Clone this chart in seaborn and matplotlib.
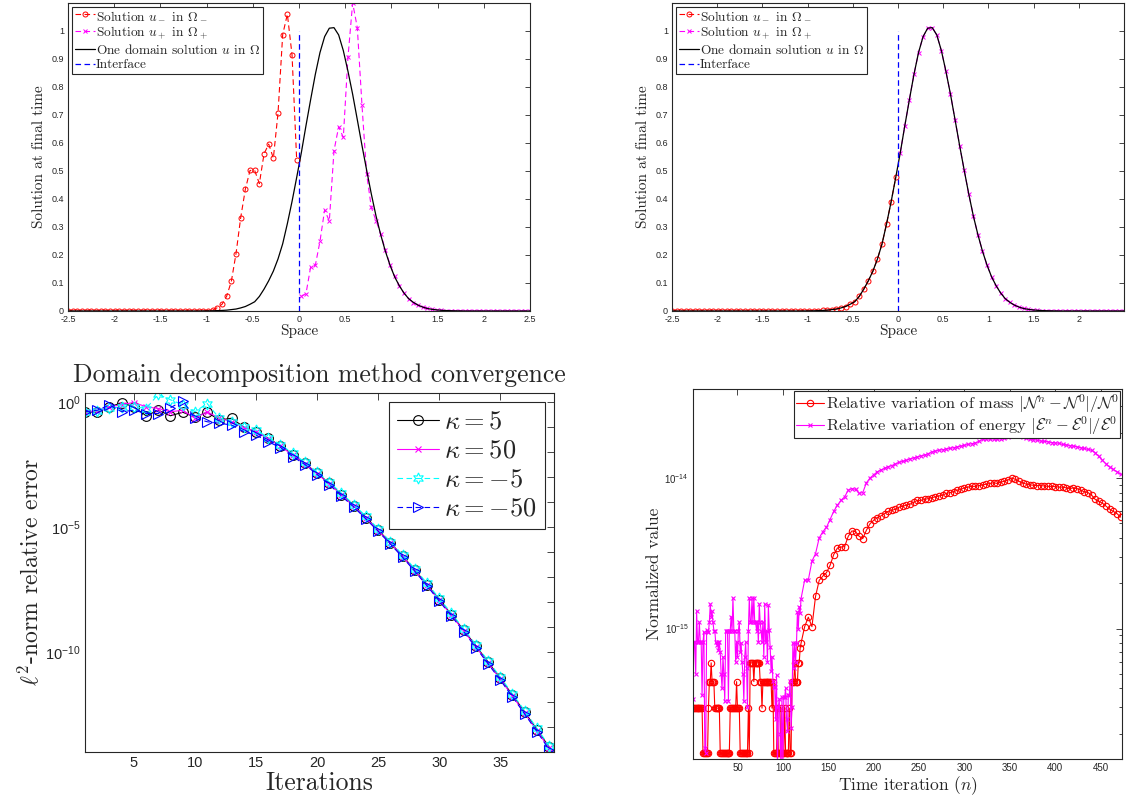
import numpy as np
import pandas as pd
import matplotlib
matplotlib.use("Agg")
import matplotlib.pyplot as plt
import matplotlib.ticker as mticker
import seaborn as sns

# ---------------- data ----------------
# space grids (cell centres, left and right sub-domains)
x_minus = np.linspace(-2.5, -0.025, 50)
x_plus = np.linspace(0.025, 2.5, 50)

# one domain solution u sampled on the two grids
u_exact_minus = [0.0] * 29 + [0.0003, 0.0005, 0.0008, 0.0013, 0.002, 0.003, 0.005, 0.007,
                              0.011, 0.016, 0.024, 0.033, 0.052, 0.078, 0.108, 0.1425,
                              0.186, 0.240, 0.312, 0.391, 0.477]
u_exact_plus = [0.565, 0.662, 0.755, 0.845, 0.923, 0.980, 1.010, 1.012, 0.986, 0.930,
                0.856, 0.774, 0.683, 0.591, 0.503, 0.418, 0.340, 0.273, 0.214, 0.164,
                0.122, 0.090, 0.064, 0.044, 0.031, 0.021, 0.014, 0.009, 0.006, 0.004,
                0.0025, 0.0016, 0.001, 0.0006, 0.0004] + [0.0] * 15

# first decomposition attempt (top left)
u_minus_bad = [0.0] * 30 + [0.001, 0.003, 0.012, 0.024, 0.053, 0.106, 0.205, 0.333, 0.435,
                            0.502, 0.502, 0.455, 0.561, 0.596, 0.546, 0.707, 0.987, 1.06,
                            0.915, 0.539]
u_plus_bad = [0.052, 0.062, 0.157, 0.163, 0.249, 0.361, 0.321, 0.572, 0.658, 0.620,
              0.907, 1.10, 1.012, 0.735, 0.489, 0.370, 0.323, 0.276, 0.219, 0.166,
              0.124, 0.091, 0.064, 0.044, 0.030, 0.020, 0.014, 0.0095, 0.006, 0.004,
              0.0025, 0.0015, 0.001, 0.0006] + [0.0] * 16

interface_x = [0.0, 0.0]
interface_y = [0.0, 1.0]

# DDM convergence: log10 of l2 relative error per iteration
iterations = np.arange(1, 40)
log_err_k5 = [-0.39, -0.41, -0.20, -0.03, -0.19, -0.55, -0.33, -0.55, -0.41, -0.60,
              -0.41, -0.72, -0.65, -1.00, -1.20, -1.45, -1.75, -2.10, -2.45, -2.85,
              -3.25, -3.70, -4.15, -4.62, -5.12, -5.63, -6.16, -6.72, -7.30, -7.90,
              -8.50, -9.12, -9.75, -10.40, -11.05, -11.72, -12.40, -13.10, -13.80]
log_err_k50 = [-0.39, -0.35, -0.20, -0.10, -0.02, -0.19, -0.26, -0.39, -0.33, -0.65,
               -0.39, -0.65, -0.79, -1.02, -1.18, -1.47, -1.77, -2.12, -2.46, -2.87,
               -3.27, -3.72, -4.17, -4.64, -5.14, -5.65, -6.18, -6.74, -7.33, -7.93,
               -8.53, -9.15, -9.79, -10.44, -11.09, -11.76, -12.45, -13.15, -13.85]
log_err_km5 = [-0.40, -0.35, -0.25, -0.19, -0.19, -0.26, 0.31, 0.09, -0.11, -0.39,
               -0.06, -0.65, -0.79, -0.98, -1.12, -1.42, -1.70, -2.05, -2.40, -2.80,
               -3.20, -3.65, -4.10, -4.57, -5.07, -5.58, -6.11, -6.67, -7.25, -7.85,
               -8.45, -9.07, -9.70, -10.35, -11.00, -11.67, -12.35, -13.05, -13.75]
log_err_km50 = [-0.39, -0.33, -0.12, -0.39, -0.33, -0.46, -0.46, -0.23, 0.05, -0.65,
                -0.79, -0.85, -0.92, -1.19, -1.32, -1.59, -1.82, -2.18, -2.50, -2.90,
                -3.30, -3.76, -4.20, -4.68, -5.17, -5.68, -6.21, -6.77, -7.35, -7.96,
                -8.56, -9.18, -9.82, -10.47, -11.12, -11.79, -12.48, -13.18, -13.90]

# mass / energy variation, values in units of 1e-16
n_early = np.arange(1, 120)
mass_early = ([2.96] * 11 + [1.48] * 6 + [2.96] + [4.44] * 2 + [5.92] + [4.44] * 3 +
              [2.96] * 6 + [1.48] * 11 + [2.96] * 7 + [4.44] + [2.96] * 3 + [1.48] * 9 +
              [2.96] + [1.48] + [5.92] * 4 + [4.44] + [5.92] * 6 + [4.44] * 2 + [2.96] +
              [4.44] * 10 + [2.96] + [4.44] + [1.48] * 4 + [2.96] + [1.48] * 3 + [2.96] +
              [1.48] * 3 + [2.96] + [1.48] * 4 + [2.96] + [1.48] * 2 + [4.44] * 3 +
              [5.92] + [4.44] * 3 + [5.92] * 2 + [7.4])
energy_early = [3.4, 8.1, 8.1, 5.0, 13.0, 8.1, 8.1, 11.0, 8.1, 8.1,
                3.6, 8.1, 9.5, 1.6, 1.5, 9.8, 9.5, 9.5, 11.0, 14.5,
                12.0, 13.0, 11.0, 9.7, 9.7, 8.1, 7.8, 8.1, 7.2, 8.1,
                7.0, 5.0, 4.0, 6.5, 5.0, 3.3, 9.7, 9.7, 9.7, 3.3,
                9.7, 9.7, 12.0, 9.7, 16.0, 9.7, 9.7, 6.0, 8.1, 6.5,
                9.7, 11.0, 7.0, 8.0, 6.0, 5.0, 3.3, 6.5, 8.1, 5.5,
                3.0, 9.7, 16.0, 11.0, 11.0, 16.0, 11.0, 16.0, 11.0, 11.0,
                9.7, 11.0, 8.1, 14.5, 11.0, 9.7, 8.1, 11.0, 6.5, 14.5,
                8.1, 9.7, 6.0, 14.3, 9.8, 7.5, 5.2, 6.5, 4.5, 4.1,
                4.1, 2.5, 4.9, 1.2, 3.0, 3.4, 2.0, 1.1, 3.5, 1.2,
                3.5, 3.5, 4.0, 2.5, 2.1, 3.6, 3.6, 4.5, 2.2, 3.0,
                8.0, 5.5, 8.0, 6.0, 8.0, 12.9, 10.0, 14.0, 12.6]
n_late = np.arange(120, 473, 4)
mass_late = [8.0, 10.3, 11.9, 10.3, 16.4, 20.9, 22.3, 23.5, 26.3, 31.0,
             34.2, 34.8, 35.0, 41.0, 44.5, 44.0, 41.0, 39.6, 45.0, 49.7,
             52.4, 54.5, 56.0, 58.0, 60.0, 61.0, 62.0, 64.0, 65.0, 66.0,
             67.0, 69.0, 71.0, 71.0, 72.0, 73.0, 74.0, 75.0, 76.0, 77.0,
             79.0, 80.0, 81.0, 83.0, 84.0, 86.0, 87.0, 88.0, 88.0, 89.0,
             90.0, 91.0, 92.0, 93.0, 92.0, 94.0, 95.0, 97.0, 100.0, 98.0,
             95.0, 93.0, 91.0, 90.0, 89.5, 89.0, 89.0, 88.5, 88.0, 88.0,
             87.5, 87.0, 87.0, 86.0, 85.0, 86.0, 85.0, 83.0, 81.0, 80.0,
             77.0, 72.0, 70.0, 68.0, 65.0, 62.0, 60.0, 58.0, 55.0]
energy_late = [15.8, 21.0, 21.0, 28.0, 31.5, 40.0, 44.0, 47.0, 53.0, 60.0,
               66.0, 71.0, 75.0, 83.0, 85.0, 84.0, 79.0, 80.0, 93.0, 100.0,
               105.0, 110.0, 113.0, 116.0, 119.0, 121.0, 124.0, 127.0, 129.0, 131.0,
               134.0, 136.0, 138.0, 140.0, 142.0, 145.0, 149.0, 151.0, 153.0, 154.0,
               156.0, 157.0, 159.0, 161.0, 163.0, 165.0, 167.0, 169.0, 171.0, 175.0,
               181.0, 182.0, 181.0, 182.0, 181.0, 182.0, 184.0, 187.0, 190.0, 192.0,
               189.0, 186.0, 183.0, 181.0, 180.0, 178.0, 176.0, 175.0, 174.0, 172.0,
               171.0, 170.0, 167.0, 166.0, 164.0, 163.0, 161.0, 159.0, 157.0, 155.0,
               153.0, 147.0, 139.0, 131.0, 124.0, 118.0, 114.0, 110.0, 106.0]

# ---------------- style ----------------
sns.set_theme(style="white")
plt.rcParams.update({
    "font.family": ["Liberation Sans", "DejaVu Sans"],
    "mathtext.fontset": "cm",
    "axes.edgecolor": "#262626",
    "axes.linewidth": 0.8,
    "xtick.color": "#262626",
    "ytick.color": "#262626",
    "lines.scale_dashes": False,
    "lines.dashed_pattern": [4.0, 2.5],
})
SERIF = "cmr10"

fig = plt.figure(figsize=(11.33, 8.07), dpi=100)
W, H = 1133, 807


def box(l, r, t, b):
    return [l / W, 1 - b / H, (r - l) / W, (b - t) / H]


def matlab_ticks(ax, size, length=3.5):
    ax.tick_params(which="both", direction="in", top=True, right=True,
                   labelsize=size, width=0.6, pad=3)
    ax.tick_params(which="major", length=length)
    ax.tick_params(which="minor", length=length * 0.6)


def leg(ax, size, loc, **kw):
    lg = ax.legend(loc=loc, prop={"family": SERIF, "size": size}, fancybox=False,
                   framealpha=1, edgecolor="#262626", **kw)
    lg.get_frame().set_linewidth(0.8)
    return lg


def solution_panel(ax, u_m, u_p, last_label=True):
    sns.lineplot(x=x_minus, y=u_m, ax=ax, color="red", linestyle="--", lw=0.8,
                 marker="o", markersize=3.6, mfc="none", mec="red", mew=0.7,
                 estimator=None, label=r"Solution $u_-$ in $\Omega_-$")
    sns.lineplot(x=x_plus, y=u_p, ax=ax, color="magenta", linestyle="--", lw=0.8,
                 marker="x", markersize=3, mec="magenta", mew=0.7,
                 estimator=None, label=r"Solution $u_+$ in $\Omega_+$")
    sns.lineplot(x=np.concatenate([x_minus, x_plus]),
                 y=np.concatenate([u_exact_minus, u_exact_plus]), ax=ax,
                 color="black", lw=0.9, estimator=None,
                 label=r"One domain solution $u$ in $\Omega$")
    ax.plot(interface_x, interface_y, color="blue", linestyle="--", lw=0.9,
            label="Interface")
    ax.set_xlim(-2.5, 2.5)
    ax.set_ylim(0, 1.1)
    ax.set_xticks(np.arange(-2.5, 2.51, 0.5))
    ax.set_yticks(np.arange(0, 1.01, 0.1))
    labs = ["0" if abs(v) < 1e-9 else f"{v:g}" for v in np.arange(-2.5, 2.51, 0.5)]
    if not last_label:
        labs[-1] = ""
    ax.set_xticklabels(labs)
    ax.set_yticklabels(["0" if i == 0 else f"{v:g}" for i, v in
                        enumerate(np.round(np.arange(0, 1.01, 0.1), 1))])
    matlab_ticks(ax, 6.5, 3.5)
    ax.set_xlabel("Space", family=SERIF, fontsize=11, labelpad=0)
    ax.set_ylabel("Solution at final time", family=SERIF, fontsize=11, labelpad=4)
    leg(ax, 9.6, "upper left", handlelength=1.5, handletextpad=0.1,
        labelspacing=0.15, borderpad=0.2, borderaxespad=0.3)


# top left / top right
ax1 = fig.add_axes(box(68, 530, 3, 311))
solution_panel(ax1, u_minus_bad, u_plus_bad)
ax2 = fig.add_axes(box(672, 1124, 3, 311))
solution_panel(ax2, u_exact_minus, u_exact_plus, last_label=False)

# bottom left: DDM convergence
ax3 = fig.add_axes(box(85, 554, 393, 752))
ax3.set_yscale("log")
conv = [
    (log_err_k5, "black", "-", "o", r"$\kappa = 5$", 7),
    (log_err_k50, "magenta", "-", "x", r"$\kappa = 50$", 5),
    (log_err_km5, "cyan", "--", (6, 1, 0), r"$\kappa = -5$", 8),
    (log_err_km50, "blue", "--", ">", r"$\kappa = -50$", 7),
]
for vals, col, ls, mk, lab, ms in conv:
    sns.lineplot(x=iterations, y=10.0 ** np.array(vals), ax=ax3, color=col,
                 linestyle=ls, lw=0.8, marker=mk, markersize=ms, mfc="none",
                 mec=col, mew=0.8, estimator=None, label=lab)
ax3.set_xlim(1, 39.4)
ax3.set_ylim(1e-14, 10 ** 0.36)
ax3.set_xticks(np.arange(5, 36, 5))
ax3.yaxis.set_major_locator(mticker.FixedLocator([1e-10, 1e-5, 1e0]))
ax3.yaxis.set_minor_locator(mticker.FixedLocator(10.0 ** np.arange(-14, 1)))
ax3.yaxis.set_major_formatter(mticker.LogFormatterSciNotation())
ax3.yaxis.set_minor_formatter(mticker.NullFormatter())
matlab_ticks(ax3, 10.5, 5)
ax3.tick_params(which="minor", length=5)
ax3.set_title("Domain decomposition method convergence", family=SERIF,
              fontsize=18.5, pad=8)
ax3.set_xlabel("Iterations", family=SERIF, fontsize=18.5, labelpad=1)
ax3.set_ylabel(r"$\ell^2$-norm relative error", family=SERIF, fontsize=17, labelpad=2)
leg(ax3, 19, "upper right", handlelength=1.6, handletextpad=0.2,
    labelspacing=0.2, borderpad=0.3, borderaxespad=0.35)

# bottom right: conservation
ax4 = fig.add_axes(box(693, 1122, 389, 759))
ax4.set_yscale("log")
df_cons = pd.DataFrame({
    "n": np.concatenate([n_early, n_late]),
    "mass": np.concatenate([mass_early, mass_late]) * 1e-16,
    "energy": np.concatenate([energy_early, energy_late]) * 1e-16,
})
sns.lineplot(data=df_cons, x="n", y="mass", ax=ax4, color="red", lw=0.8,
             marker="o", markersize=4.6, mfc="none", mec="red", mew=0.8,
             estimator=None,
             label=r"Relative variation of mass $|\mathcal{N}^n-\mathcal{N}^0|/\mathcal{N}^0$")
sns.lineplot(data=df_cons, x="n", y="energy", ax=ax4, color="magenta", lw=0.8,
             marker="x", markersize=3.2, mec="magenta", mew=0.8, estimator=None,
             label=r"Relative variation of energy $|\mathcal{E}^n-\mathcal{E}^0|/\mathcal{E}^0$")
ax4.set_xlim(1, 473.5)
ax4.set_ylim(1.36e-16, 3.9e-14)
ax4.set_xticks(np.arange(50, 451, 50))
ax4.yaxis.set_major_locator(mticker.FixedLocator([1e-15, 1e-14]))
ax4.yaxis.set_major_formatter(mticker.LogFormatterSciNotation())
ax4.yaxis.set_minor_formatter(mticker.NullFormatter())
matlab_ticks(ax4, 7, 4)
ax4.set_xlabel(r"Time iteration $(n)$", family=SERIF, fontsize=12.5, labelpad=1)
ax4.set_ylabel("Normalized value", family=SERIF, fontsize=12.5, labelpad=2)
leg(ax4, 11.8, "upper right", handlelength=1.7, handletextpad=0.1,
    labelspacing=-0.05, borderpad=0.1, borderaxespad=0.1)

fig.savefig("out.png", dpi=100)
